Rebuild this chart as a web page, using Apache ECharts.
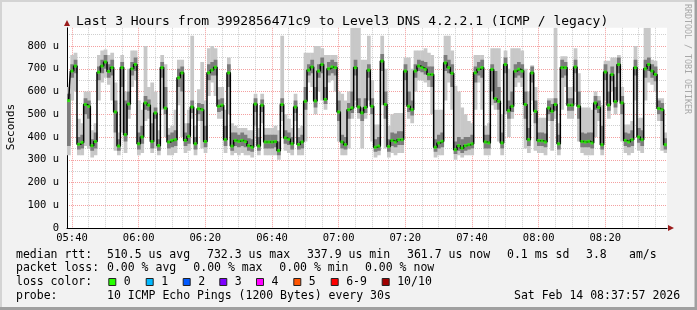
<!DOCTYPE html>
<html><head><meta charset="utf-8">
<script src="https://cdn.jsdelivr.net/npm/echarts@6/dist/echarts.min.js"></script>
<style>html,body{margin:0;padding:0;background:#f2f2f2}#c{width:697px;height:310px}</style>
</head><body><div id="c"></div>
<script>
// median RTT (us), one value per minute, first sample 05:39
const med = [560,690,712,368,376,543,535,362,380,685,
712,730,688,705,510,360,705,410,545,700,
719,370,400,550,540,380,506,362,705,527,
378,385,388,660,682,385,403,532,370,524,
520,380,682,694,707,535,540,388,682,360,
385,381,385,380,362,355,545,360,540,378,
378,378,380,340,543,396,390,370,532,367,
378,557,694,708,558,690,719,565,700,708,
705,510,378,366,520,528,705,532,506,530,
694,535,355,360,734,543,358,385,378,388,
388,690,535,520,690,712,705,698,675,675,
355,374,381,726,705,680,344,362,351,362,
366,370,682,698,705,378,374,697,568,557,
374,719,515,535,690,698,690,543,388,682,
513,384,383,378,528,513,543,370,705,705,
540,540,708,535,380,378,381,374,550,530,
366,686,540,675,555,719,550,385,378,388,
705,400,388,700,719,690,675,525,520,366];
// smoke: outer min / max of the pings (us)
const smokeLo = [320,560,600,320,320,360,350,310,320,560,
640,660,630,560,340,320,420,330,480,620,
650,320,330,470,480,330,350,320,520,400,
320,320,330,540,400,330,340,480,320,470,
350,330,580,640,580,480,480,330,500,320,
330,320,330,320,320,310,450,320,460,320,
320,320,320,300,470,340,330,320,470,320,
320,380,640,620,500,600,560,520,640,650,
600,380,320,320,350,480,560,480,350,480,
560,380,310,320,540,350,310,330,320,330,
330,540,480,460,600,650,650,640,620,500,
310,320,320,560,640,520,300,320,310,320,
320,320,520,640,520,320,320,540,520,380,
320,500,400,480,620,640,620,350,330,560,
340,330,330,320,470,340,480,320,520,620,
480,480,600,380,330,320,320,320,400,470,
320,560,480,600,500,560,380,330,320,330,
560,340,330,560,640,630,600,470,340,330];
const smokeHi = [620,760,770,480,460,600,600,430,460,760,
780,785,760,770,640,420,760,600,700,780,
780,560,520,800,620,640,600,430,760,720,
440,450,520,740,740,460,520,845,450,610,
730,560,790,800,790,620,620,520,750,460,
450,440,440,440,430,430,590,440,590,440,
440,440,450,430,845,500,480,440,590,440,
450,770,770,770,800,800,790,760,760,760,
760,600,590,560,600,880,880,880,740,740,
845,650,455,455,845,700,450,500,505,505,
505,750,750,700,780,780,780,790,770,760,
520,520,520,845,845,780,625,600,530,500,
470,460,760,760,760,450,460,790,790,790,
500,780,700,790,790,790,780,700,600,715,
620,485,485,485,570,570,880,460,755,755,
620,620,790,680,530,530,530,520,600,580,
540,735,735,750,750,760,620,455,455,470,
800,485,485,880,880,740,735,570,570,420];
// smoke: dense core of the pings (us)
const coreLo = [360,660,680,345,350,500,480,340,350,650,
680,700,660,670,420,340,620,380,520,670,
690,345,370,520,515,350,480,340,660,500,
350,355,360,620,600,360,370,505,345,500,
470,355,650,670,670,510,515,360,620,340,
360,355,360,355,340,335,510,340,510,350,
350,350,355,320,510,370,365,345,505,345,
350,520,670,680,530,660,680,545,670,680,
670,470,350,345,480,505,670,505,470,505,
660,500,335,340,690,480,335,360,355,365,
365,650,510,495,660,690,685,675,650,620,
335,350,355,690,680,620,325,340,330,340,
345,350,640,670,660,350,350,600,550,520,
350,680,480,510,660,670,660,480,360,640,
460,360,360,355,500,470,515,345,660,670,
515,515,680,480,355,355,355,350,520,505,
345,650,515,645,530,680,500,360,355,360,
670,375,360,660,690,660,645,500,470,345];
const coreHi = [590,720,740,400,410,570,560,390,420,710,
740,760,720,740,560,390,730,560,600,730,
750,420,450,580,565,460,530,390,730,620,
410,420,430,700,710,420,460,560,400,550,
545,450,720,730,740,565,570,450,720,420,
420,410,420,410,395,390,570,400,565,410,
410,410,410,380,570,430,420,400,560,400,
410,620,720,740,620,720,750,620,730,740,
730,560,410,400,550,600,740,570,530,570,
720,570,390,400,765,600,390,420,415,425,
425,720,600,560,720,740,735,730,710,710,
390,410,420,760,740,720,380,400,390,400,
400,410,710,730,740,410,410,720,690,620,
420,750,560,600,720,730,720,600,440,710,
560,420,420,415,560,545,570,410,740,730,
570,570,740,600,420,415,420,420,580,560,
450,720,600,710,620,750,580,420,415,430,
740,440,430,740,750,720,710,560,550,395];
const xTickLabels = ['05:40','06:00','06:20','06:40','07:00','07:20','07:40','08:00','08:20'];
const titleText = 'Last 3 Hours from 3992856471c9 to Level3 DNS 4.2.2.1 (ICMP / legacy)';
const rttStats = ['510.5 us avg','732.3 us max','337.9 us min','361.7 us now','0.1 ms sd','3.8','am/s'];
const lossStats = ['0.00 % avg','0.00 % max','0.00 % min','0.00 % now'];
const lossLabels = ['0','1','2','3','4','5','6-9','10/10'];
const lossColors = ['#26ff00','#00b8ff','#0059ff','#7e00ff','#ff00ff','#ff5500','#ff0000','#a10000'];
const probeText = '10 ICMP Echo Pings (1200 Bytes) every 30s';
const dateText = 'Sat Feb 14 08:37:57 2026';

const times = [];
for (let j = 0; j < med.length; j++) {
  const m = 5 * 60 + 39 + j;
  times.push(String(Math.floor(m / 60)).padStart(2, '0') + ':' + String(m % 60).padStart(2, '0'));
}

const MONO = '"DejaVu Sans Mono", monospace';
function band(color) {
  return function (params, api) {
    const i = api.value(0);
    const top = api.coord([i, api.value(2)]);
    const bot = api.coord([i, api.value(1)]);
    const w = api.size([1, 0])[0];
    return {type: 'rect', shape: {x: top[0] - w / 2, y: top[1], width: w + 0.4, height: bot[1] - top[1]},
      style: {fill: color}};
  };
}

const g = [];
// frame
g.push({type:'rect', shape:{x:0,y:0,width:697,height:2}, style:{fill:'#d4d4d4'}});
g.push({type:'rect', shape:{x:0,y:0,width:2,height:310}, style:{fill:'#d4d4d4'}});
g.push({type:'rect', shape:{x:694.5,y:0,width:2.5,height:310}, style:{fill:'#a0a0a0'}});
g.push({type:'rect', shape:{x:0,y:307,width:697,height:3}, style:{fill:'#a0a0a0'}});
// axis arrows
g.push({type:'polygon', shape:{points:[[64,26],[70,26],[67,20]]}, style:{fill:'#9b1c1c'}});
g.push({type:'polygon', shape:{points:[[668,225],[668,231],[674,228]]}, style:{fill:'#9b1c1c'}});
// title and side texts
g.push({type:'text', x:76, y:22, style:{text:titleText, font:'13px '+MONO, fill:'#000', verticalAlign:'middle'}});
g.push({type:'text', x:11, y:127, rotation:Math.PI/2, style:{text:'Seconds', font:'11px '+MONO, fill:'#000', align:'center', verticalAlign:'middle'}});
g.push({type:'text', x:687.5, y:4, rotation:-Math.PI/2, style:{text:'RRDTOOL / TOBI OETIKER', font:'8.3px '+MONO, fill:'#a8a8a8', align:'left', verticalAlign:'middle'}});
// legend
const LF = '11.5px ' + MONO;
function txt(x, y, s) { g.push({type:'text', x:x, y:y, style:{text:s, font:LF, fill:'#000', verticalAlign:'middle'}}); }
txt(16, 254.7, 'median rtt:');
const rttX = [107, 207, 307, 407, 507, 586, 629];
rttStats.forEach((s, i) => txt(rttX[i], 254.7, s));
txt(16, 268.3, 'packet loss:');
const lossX = [107, 193.3, 279.3, 365];
lossStats.forEach((s, i) => txt(lossX[i], 268.3, s));
txt(16, 282.3, 'loss color:');
const sqX = [108.3, 145.7, 182.7, 219.3, 256, 293.3, 330.7, 381.7];
lossLabels.forEach((s, i) => {
  g.push({type:'rect', shape:{x:sqX[i]+0.5, y:278.5, width:7, height:7}, style:{fill:lossColors[i], stroke:'#222', lineWidth:1}});
  txt(sqX[i] + 15.5, 282.3, s);
});
txt(16, 296.3, 'probe:');
txt(107, 296.3, probeText);
txt(514, 296.3, dateText);

const option = {
  animation: false,
  backgroundColor: '#f2f2f2',
  grid: [
    {left:67, top:27.8, width:600, height:200.2, show:true, backgroundColor:'#ffffff', borderWidth:0},
    {left:72, top:27.8, width:583.333, height:200.2}
  ],
  xAxis: [
    {type:'category', gridIndex:0, data:times, boundaryGap:true, z:1,
     axisLine:{show:true, lineStyle:{color:'#000', width:1}}, axisTick:{show:false}, axisLabel:{show:false}, splitLine:{show:false}},
    {type:'value', gridIndex:1, min:0, max:175, interval:5, z:1,
     axisLine:{show:false}, axisTick:{show:false},
     axisLabel:{fontFamily:MONO, fontSize:10.5, color:'#000', margin:5,
       formatter: v => (v % 20 === 0 ? (xTickLabels[v / 20] || '') : '')},
     splitLine:{show:true, lineStyle:{color:['#f4a0a0','#cfcfcf','#cfcfcf','#cfcfcf'], type:[1,1], width:1}}}
  ],
  yAxis: [
    {type:'value', gridIndex:0, min:0, max:880, interval:50, z:1,
     axisLine:{show:true, lineStyle:{color:'#000', width:1}}, axisTick:{show:false},
     axisLabel:{fontFamily:MONO, fontSize:10.5, color:'#000', margin:8, showMaxLabel:false,
       formatter: v => (v === 0 ? '0' : (v % 100 === 0 && v <= 800 ? v + ' u' : ''))},
     splitLine:{show:true, showMaxLine:false, lineStyle:{color:['#f4a0a0','#cfcfcf'], type:[1,1], width:1}}},
    {type:'value', gridIndex:1, min:0, max:880, show:false}
  ],
  series: [
    {type:'custom', xAxisIndex:0, yAxisIndex:0, renderItem: band('#c8c8c8'), clip:true, z:2,
     encode:{x:0, y:[1,2]}, data: med.map((_, i) => [i, smokeLo[i], smokeHi[i]])},
    {type:'custom', xAxisIndex:0, yAxisIndex:0, renderItem: band('#7c7c7c'), clip:true, z:3,
     encode:{x:0, y:[1,2]}, data: med.map((_, i) => [i, coreLo[i], coreHi[i]])},
    {type:'line', xAxisIndex:0, yAxisIndex:0, data: med, step:'middle', symbol:'none', z:4,
     lineStyle:{color:'#000', width:1.5}},
    {type:'scatter', xAxisIndex:0, yAxisIndex:0, data: med, symbol:'rect', symbolSize:[3,3], z:5,
     itemStyle:{color:'#26ff00'}}
  ],
  graphic: g
};
const chart = echarts.init(document.getElementById('c'), null, {renderer:'canvas'});
chart.setOption(option);
</script></body></html>
